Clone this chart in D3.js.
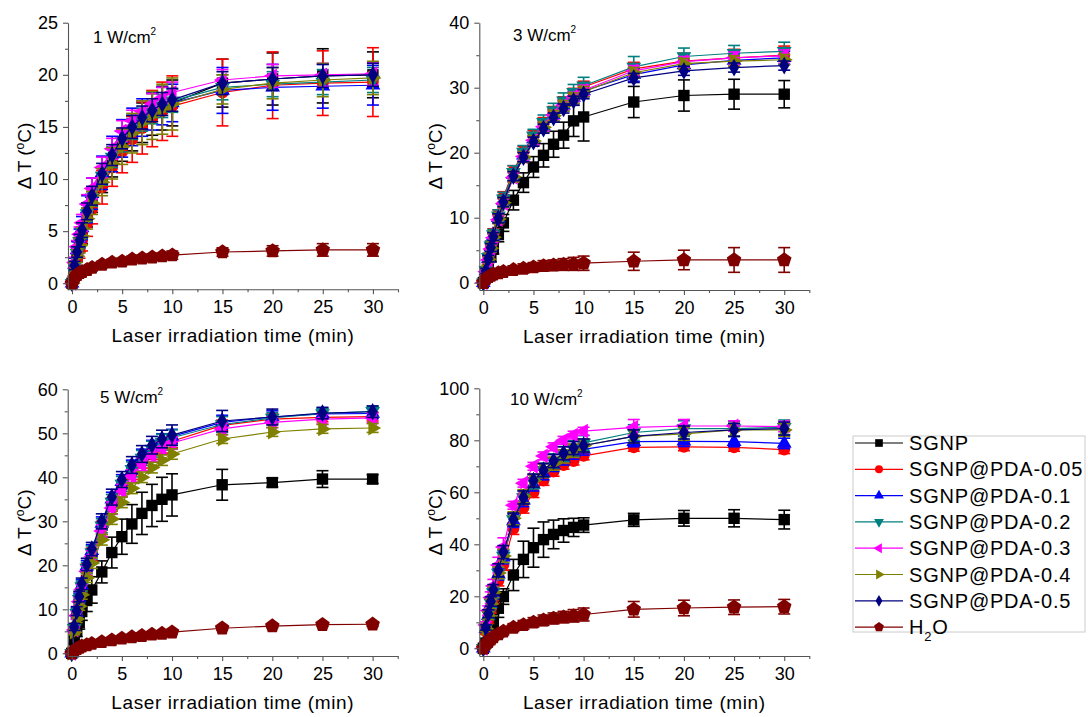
<!DOCTYPE html>
<html>
<head>
<meta charset="utf-8">
<script src="https://cdn.jsdelivr.net/npm/d3@7"></script>
<style>
body { margin: 0; background: #fff; }
text { font-family: "Liberation Sans", Arial, sans-serif; fill: #000; }
</style>
</head>
<body>
<div id="chart"></div>
<script>
// time points (min)
var times = [0, 0.25, 0.5, 0.75, 1, 1.5, 2, 3, 4, 5, 6, 7, 8, 9, 10, 15, 20, 25, 30];
var seriesNames = ["SGNP", "SGNP@PDA-0.05", "SGNP@PDA-0.1", "SGNP@PDA-0.2", "SGNP@PDA-0.3", "SGNP@PDA-0.4", "SGNP@PDA-0.5", "H2O"];
var seriesColors = ["#000000", "#ff0000", "#0000ff", "#008080", "#ff00ff", "#808000", "#000080", "#800000"];
var powers = ["1", "3", "5", "10"];
var yMaxes = [25, 40, 60, 100];
var ySteps = [5, 10, 10, 20];
var xTicks = [0, 5, 10, 15, 20, 25, 30];

// 1 W/cm2
var mean1W = [
  [0,1.4,2.7,3.7,4.6,6.3,7.8,9.9,11.6,13.2,14.4,15.4,16.2,16.8,17.3,19.2,19.6,19.9,20.0],
  [0,1.2,2.3,3.2,4.1,5.7,7.1,9.2,11.1,12.6,13.8,14.9,15.8,16.5,17.0,18.3,19.0,19.2,19.3],
  [0,1.8,3.2,4.3,5.3,7.1,8.6,10.6,12.4,13.9,15.0,15.9,16.5,17.0,17.3,18.5,18.8,18.9,19.0],
  [0,1.6,2.9,4.0,5.0,6.7,8.2,10.3,12.1,13.6,14.8,15.7,16.4,17.0,17.5,18.8,19.1,19.3,19.5],
  [0,2.0,3.5,4.7,5.8,7.6,9.1,11.1,12.9,14.6,15.6,16.5,17.2,17.8,18.3,19.5,19.9,20.0,20.1],
  [0,1.5,2.6,3.6,4.5,6.2,7.7,9.7,11.5,13.1,14.4,15.4,16.1,16.7,17.2,18.6,19.2,19.5,19.7],
  [0,1.7,3.0,4.1,5.1,6.9,8.4,10.5,12.3,13.9,15.0,15.9,16.6,17.2,17.6,19.2,19.6,19.9,20.0],
  [0,0.5,0.8,1.0,1.1,1.3,1.5,1.8,2.0,2.1,2.3,2.4,2.5,2.6,2.7,3.0,3.1,3.2,3.2]
];
var err1W = [
  [0.2,0.5,0.6,0.7,0.8,0.9,1.0,1.2,1.4,1.5,1.7,1.9,2.0,2.1,2.2,2.3,2.5,2.6,2.2],
  [0.2,0.5,0.7,0.8,1.0,1.2,1.4,1.6,1.8,2.0,2.2,2.5,2.7,2.8,2.9,3.2,3.2,3.1,3.3],
  [0.3,0.6,0.8,0.9,1.1,1.3,1.5,1.6,1.7,1.8,1.8,1.8,1.8,1.8,1.8,2.2,2.2,2.1,1.9],
  [0.2,0.4,0.5,0.6,0.7,0.8,0.8,0.9,1.0,1.0,1.0,1.1,1.1,1.1,1.1,1.2,1.2,1.2,1.2],
  [0.2,0.5,0.6,0.7,0.8,0.9,1.0,1.0,1.0,1.0,1.0,1.0,1.0,1.0,1.0,1.0,1.1,1.1,1.1],
  [0.2,0.5,0.6,0.7,0.8,1.0,1.1,1.3,1.5,1.7,1.9,2.1,2.3,2.4,2.5,1.4,1.5,1.6,1.6],
  [0.2,0.4,0.5,0.6,0.7,0.8,0.9,1.0,1.0,1.0,1.1,1.1,1.1,1.1,1.1,1.1,1.1,1.1,1.1],
  [0.1,0.2,0.2,0.2,0.2,0.2,0.3,0.3,0.3,0.3,0.3,0.3,0.3,0.3,0.4,0.4,0.5,0.6,0.6]
];

// 3 W/cm2
var mean3W = [
  [0,1.2,2.6,4.0,5.3,7.4,9.2,12.7,15.4,17.8,19.6,21.3,22.7,24.9,25.5,27.8,28.8,29.0,29.0],
  [0,2.0,4.0,5.8,7.6,10.5,13.2,17.2,20.2,22.6,24.6,26.3,27.8,29.1,30.1,32.9,34.1,34.6,35.0],
  [0,1.8,3.7,5.5,7.2,10.0,12.6,16.6,19.6,22.1,24.1,25.8,27.3,28.5,29.5,32.0,33.5,34.2,34.6],
  [0,1.9,3.9,5.7,7.4,10.3,12.9,17.0,20.1,22.6,24.7,26.5,28.0,29.3,30.3,33.2,34.8,35.3,35.6],
  [0,1.7,3.5,5.2,6.9,9.7,12.2,16.2,19.4,21.9,24.0,25.8,27.3,28.6,29.6,32.6,34.0,34.6,34.9],
  [0,1.8,3.6,5.3,7.0,9.8,12.3,16.3,19.3,21.8,23.9,25.7,27.2,28.4,29.4,32.3,33.7,34.1,34.3],
  [0,1.8,3.7,5.4,7.1,9.9,12.4,16.4,19.3,21.7,23.7,25.4,26.8,28.0,29.0,31.5,32.6,33.1,33.4],
  [0,0.6,0.9,1.1,1.3,1.5,1.7,2.0,2.2,2.4,2.6,2.7,2.8,2.9,3.0,3.3,3.5,3.5,3.5]
];
var err3W = [
  [0.2,0.4,0.6,0.8,0.9,1.1,1.3,1.5,1.5,1.6,1.8,2.0,2.0,2.4,3.7,2.4,2.4,2.3,2.1],
  [0.3,0.4,0.5,0.6,0.7,0.7,0.8,0.8,0.8,0.8,0.8,0.8,0.8,0.8,0.9,1.0,1.2,1.3,1.4],
  [0.3,0.4,0.5,0.6,0.6,0.7,0.8,0.9,0.9,0.9,0.9,0.9,0.9,0.9,0.9,1.0,1.0,1.0,1.0],
  [0.3,0.5,0.6,0.7,0.8,0.9,1.0,1.0,1.0,1.0,1.1,1.1,1.2,1.2,1.3,1.6,1.3,1.2,1.4],
  [0.3,0.4,0.5,0.5,0.6,0.6,0.7,0.7,0.7,0.7,0.7,0.7,0.7,0.7,0.8,0.8,0.8,0.9,0.9],
  [0.3,0.4,0.5,0.6,0.6,0.7,0.7,0.8,0.8,0.8,0.8,0.8,0.8,0.8,0.8,0.8,0.8,0.8,0.8],
  [0.3,0.4,0.5,0.6,0.6,0.7,0.7,0.7,0.7,0.7,0.7,0.7,0.7,0.7,0.7,0.7,0.7,0.7,0.7],
  [0.1,0.2,0.3,0.3,0.4,0.5,0.5,0.6,0.7,0.7,0.8,0.8,0.9,1.0,1.1,1.4,1.5,1.9,1.9]
];

// 5 W/cm2
var mean5W = [
  [0,3.0,5.0,7.0,9.5,12.0,14.4,18.5,22.9,26.5,29.4,31.8,33.6,35.0,36.0,38.3,38.8,39.6,39.6],
  [0,5.5,8.8,12.0,14.8,19.0,22.5,28.5,33.8,37.8,41.0,43.6,45.6,47.0,48.2,51.8,53.2,53.6,53.8],
  [0,5.8,9.3,12.6,15.5,19.8,23.3,29.5,35.0,39.0,42.3,44.8,46.8,48.3,49.3,52.5,53.7,54.4,54.5],
  [0,5.7,9.1,12.3,15.2,19.4,22.9,29.0,34.4,38.5,41.8,44.4,46.4,48.0,49.0,52.0,53.5,54.5,55.0],
  [0,5.3,8.6,11.7,14.5,18.6,22.0,27.8,33.0,37.0,40.3,42.9,45.0,46.6,47.8,51.0,52.5,53.2,53.5],
  [0,4.8,7.8,10.7,13.3,17.2,20.5,25.8,30.5,34.3,37.5,40.0,42.2,43.9,45.3,48.7,50.3,51.0,51.2],
  [0,6.0,9.6,12.9,15.8,20.2,23.7,30.0,35.5,39.5,42.8,45.3,47.3,48.7,49.6,52.8,53.7,54.6,54.9],
  [0,0.6,1.0,1.3,1.6,1.9,2.2,2.6,3.0,3.4,3.7,4.0,4.3,4.5,4.8,5.7,6.2,6.5,6.6]
];
var err5W = [
  [0.3,0.8,1.2,1.5,2.0,2.5,3.0,2.5,3.5,4.0,4.4,4.8,4.8,5.0,4.8,3.5,1.0,1.9,1.0],
  [0.3,0.8,1.0,1.1,1.2,1.3,1.4,1.5,1.5,1.5,1.5,1.5,1.5,1.5,1.5,1.2,1.2,1.0,1.0],
  [0.3,0.8,1.0,1.1,1.2,1.3,1.4,1.5,1.6,1.6,1.6,1.6,1.6,1.6,1.6,1.6,1.4,1.2,1.2],
  [0.3,0.8,1.0,1.1,1.2,1.3,1.5,1.6,1.7,1.7,1.7,1.7,1.8,1.8,1.8,1.8,1.2,1.2,1.2],
  [0.3,0.7,0.9,1.0,1.1,1.2,1.3,1.4,1.4,1.4,1.4,1.4,1.4,1.4,1.4,1.3,1.2,1.1,1.1],
  [0.3,0.6,0.8,0.9,1.0,1.1,1.2,1.2,1.2,1.2,1.2,1.2,1.2,1.2,1.2,1.0,1.0,1.0,1.0],
  [0.3,0.8,1.0,1.2,1.3,1.4,1.5,1.7,1.8,1.8,1.9,1.9,2.0,2.0,2.3,2.4,1.8,1.3,1.3],
  [0.1,0.2,0.2,0.2,0.3,0.3,0.3,0.3,0.3,0.3,0.3,0.3,0.3,0.3,0.3,0.4,0.4,0.4,0.5]
];

// 10 W/cm2
var mean10W = [
  [0,2.0,4.0,7.0,10.0,15.4,19.9,28.2,34.2,38.7,41.8,43.8,45.3,46.5,47.4,49.4,50.0,50.0,49.5],
  [0,6.5,11.0,15.0,19.0,26.0,32.0,46.0,54.0,60.0,64.5,68.0,70.5,72.0,74.0,77.3,77.5,77.3,76.4],
  [0,7.5,12.5,17.0,21.0,28.5,35.0,49.0,57.0,63.0,67.3,70.5,73.0,75.0,76.5,79.5,79.6,79.5,78.8],
  [0,7.8,13.0,17.5,21.5,29.0,35.5,49.5,58.0,64.0,68.5,72.0,74.8,77.0,79.0,83.0,84.5,84.5,85.0],
  [0,9.0,14.5,19.5,24.0,32.0,39.0,55.0,63.5,70.0,74.0,77.5,80.0,82.0,83.5,85.0,85.5,85.5,85.3],
  [0,7.5,12.5,17.0,21.5,29.0,35.5,50.0,58.5,64.5,68.5,71.0,73.8,76.0,78.0,81.5,82.5,84.0,84.0],
  [0,8.0,13.3,18.0,22.5,30.0,37.0,49.5,58.0,64.5,68.5,72.0,75.0,77.0,78.0,81.5,83.0,84.0,84.5],
  [0,1.5,2.5,3.5,4.3,5.5,6.5,8.0,9.0,10.0,10.8,11.5,12.0,12.5,13.0,15.0,15.5,15.8,16.0]
];
var err10W = [
  [0.5,1.0,2.0,2.5,3.0,3.5,3.0,6.0,7.0,7.5,6.8,5.5,4.5,3.5,2.8,2.5,3.0,3.3,3.6],
  [0.5,1.0,1.5,1.5,1.8,2.0,2.0,2.2,2.0,2.0,1.8,1.8,1.6,1.5,1.5,1.5,1.5,1.5,1.5],
  [0.5,1.0,1.5,1.8,2.0,2.2,2.5,2.5,2.5,2.5,2.5,2.5,2.5,2.3,2.2,2.0,2.0,2.0,2.0],
  [0.5,1.0,1.5,1.8,2.0,2.3,2.5,2.5,2.6,2.7,2.8,2.8,2.8,2.8,2.8,3.0,3.0,2.8,2.8],
  [0.5,1.2,1.8,2.2,2.5,3.0,3.5,1.5,1.5,1.5,1.5,1.5,1.5,1.5,1.5,3.0,2.5,2.0,2.0],
  [0.5,1.0,1.5,1.8,2.0,2.2,2.5,2.5,2.5,2.5,2.5,2.5,2.5,2.5,2.5,2.5,2.5,2.5,2.5],
  [0.5,1.0,1.5,1.8,2.0,2.5,2.5,2.5,2.5,2.5,2.5,2.5,2.5,2.5,2.5,2.5,2.5,2.5,2.5],
  [0.3,0.5,0.7,0.8,1.0,1.2,1.3,1.5,1.7,1.8,2.0,2.1,2.2,2.4,2.5,3.0,3.0,2.8,2.8]
];

var means = [mean1W, mean3W, mean5W, mean10W];
var errs = [err1W, err3W, err5W, err10W];

// pixel boxes of the four panels and the bottom of each y domain
var frames = [
  {left: 68, right: 398, top: 22.7, bottom: 289.3, yMin: -0.58},
  {left: 479.3, right: 809.3, top: 22.7, bottom: 290, yMin: -1.12},
  {left: 67.7, right: 397.7, top: 389.3, bottom: 656, yMin: -0.61},
  {left: 479.3, right: 809.3, top: 388.3, bottom: 656, yMin: -2.96}
];
var labelPos = [[93, 43], [513, 41], [100, 403], [510, 405]];

// pentagon marker for water
var pentagon = {
  draw: function(ctx, size) {
    var r = Math.sqrt(size / 2.378);
    for (var k = 0; k < 5; k++) {
      var a = -Math.PI / 2 + k * 2 * Math.PI / 5;
      if (k == 0) ctx.moveTo(r * Math.cos(a), r * Math.sin(a));
      else ctx.lineTo(r * Math.cos(a), r * Math.sin(a));
    }
    ctx.closePath();
  }
};
var markers = [
  {type: d3.symbolSquare, rot: 0, size: 130},
  {type: d3.symbolCircle, rot: 0, size: 110},
  {type: d3.symbolTriangle, rot: 0, size: 95},
  {type: d3.symbolTriangle, rot: 180, size: 95},
  {type: d3.symbolTriangle, rot: -90, size: 95},
  {type: d3.symbolTriangle, rot: 90, size: 95},
  {type: d3.symbolDiamond, rot: 0, size: 90},
  {type: pentagon, rot: 0, size: 140}
];

var svg = d3.select("#chart")
  .append("svg")
  .attr("width", 1088)
  .attr("height", 717);

svg.append("rect").attr("width", 1088).attr("height", 717).attr("fill", "#fff");

frames.forEach(function(f, p) {
  var x = d3.scaleLinear().domain([-0.4, 32.5]).range([f.left, f.right]);
  var y = d3.scaleLinear().domain([f.yMin, yMaxes[p]]).range([f.bottom, f.top]);
  var step = ySteps[p];
  var yMajor = d3.range(0, yMaxes[p] + 0.001, step);
  var yMinor = d3.range(step / 2, yMaxes[p], step);
  var xMinor = d3.range(2.5, 33, 5);

  var g = svg.append("g");

  // series
  means[p].forEach(function(vals, s) {
    var pts = times.map(function(t, i) { return {t: t, v: vals[i], e: errs[p][s][i]}; });
    var col = seriesColors[s];
    var sg = g.append("g");

    sg.append("path")
      .datum(pts)
      .attr("fill", "none")
      .attr("stroke", col)
      .attr("stroke-width", 1.2)
      .attr("d", d3.line().x(function(d) { return x(d.t); }).y(function(d) { return y(d.v); }));

    var eb = sg.selectAll(".eb").data(pts).enter().append("g")
      .attr("stroke", col).attr("stroke-width", 1.6);
    eb.append("line")
      .attr("x1", function(d) { return x(d.t); }).attr("x2", function(d) { return x(d.t); })
      .attr("y1", function(d) { return y(d.v - d.e); }).attr("y2", function(d) { return y(d.v + d.e); });
    eb.append("line")
      .attr("x1", function(d) { return x(d.t) - 6; }).attr("x2", function(d) { return x(d.t) + 6; })
      .attr("y1", function(d) { return y(d.v + d.e); }).attr("y2", function(d) { return y(d.v + d.e); });
    eb.append("line")
      .attr("x1", function(d) { return x(d.t) - 6; }).attr("x2", function(d) { return x(d.t) + 6; })
      .attr("y1", function(d) { return y(d.v - d.e); }).attr("y2", function(d) { return y(d.v - d.e); });

    var m = markers[s];
    sg.selectAll(".mk").data(pts).enter().append("path")
      .attr("d", d3.symbol().type(m.type).size(m.size))
      .attr("transform", function(d) { return "translate(" + x(d.t) + "," + y(d.v) + ") rotate(" + m.rot + ")"; })
      .attr("fill", col);
  });

  // x axis
  var xa = svg.append("g")
    .attr("transform", "translate(0," + f.bottom + ")")
    .call(d3.axisBottom(x).tickValues(xTicks).tickSize(5).tickSizeOuter(0).tickPadding(6));
  svg.append("g")
    .attr("transform", "translate(0," + f.bottom + ")")
    .call(d3.axisBottom(x).tickValues(xMinor).tickSize(3).tickFormat(""))
    .select(".domain").remove();

  // y axis
  var ya = svg.append("g")
    .attr("transform", "translate(" + f.left + ",0)")
    .call(d3.axisLeft(y).tickValues(yMajor).tickSize(5).tickSizeOuter(0).tickPadding(5));
  svg.append("g")
    .attr("transform", "translate(" + f.left + ",0)")
    .call(d3.axisLeft(y).tickValues(yMinor).tickSize(3).tickFormat(""))
    .select(".domain").remove();

  svg.selectAll(".domain, .tick line").attr("stroke", "#555").attr("stroke-width", 1.1);
  [xa, ya].forEach(function(a) {
    a.attr("font-family", null).attr("font-size", null);
    a.selectAll("text").style("font-size", "18px").attr("fill", "#111");
  });

  // axis titles
  svg.append("text")
    .attr("x", (f.left + f.right) / 2)
    .attr("y", f.bottom + 53)
    .attr("text-anchor", "middle")
    .style("font-size", "19px")
    .style("letter-spacing", "0.6px")
    .text("Laser irradiation time (min)");

  var yt = svg.append("text")
    .attr("transform", "translate(" + (f.left - 37) + "," + ((f.top + f.bottom) / 2) + ") rotate(-90)")
    .attr("text-anchor", "middle")
    .style("font-size", "19px");
  yt.append("tspan").text("\u0394 T (");
  yt.append("tspan").attr("dy", -7).style("font-size", "12px").text("o");
  yt.append("tspan").attr("dy", 7).text("C)");

  // power label
  var pl = svg.append("text")
    .attr("x", labelPos[p][0])
    .attr("y", labelPos[p][1])
    .style("font-size", "17px");
  pl.append("tspan").text(powers[p] + " W/cm");
  pl.append("tspan").attr("dy", -8).style("font-size", "10px").text("2");
});

// legend
var lg = svg.append("g").attr("transform", "translate(853,436)");
lg.append("rect")
  .attr("width", 232).attr("height", 196)
  .attr("fill", "#fff").attr("stroke", "#ccc").attr("stroke-width", 1);

seriesNames.forEach(function(name, s) {
  var cy = 7 + s * 26.3;
  var row = lg.append("g").attr("transform", "translate(0," + cy + ")");
  row.append("line").attr("x1", 2).attr("x2", 50).attr("y1", 0).attr("y2", 0)
    .attr("stroke", seriesColors[s]).attr("stroke-width", 1.2);
  var m = markers[s];
  row.append("path")
    .attr("d", d3.symbol().type(m.type).size(m.size * 0.45))
    .attr("transform", "translate(26,0) rotate(" + m.rot + ")")
    .attr("fill", seriesColors[s]);
  var t = row.append("text").attr("x", 56).attr("y", 7)
    .style("font-size", "20px").style("letter-spacing", "0.8px");
  if (name == "H2O") {
    t.append("tspan").text("H");
    t.append("tspan").attr("dy", 7).style("font-size", "13px").text("2");
    t.append("tspan").attr("dy", -7).text("O");
  } else {
    t.text(name);
  }
});
</script>
</body>
</html>
